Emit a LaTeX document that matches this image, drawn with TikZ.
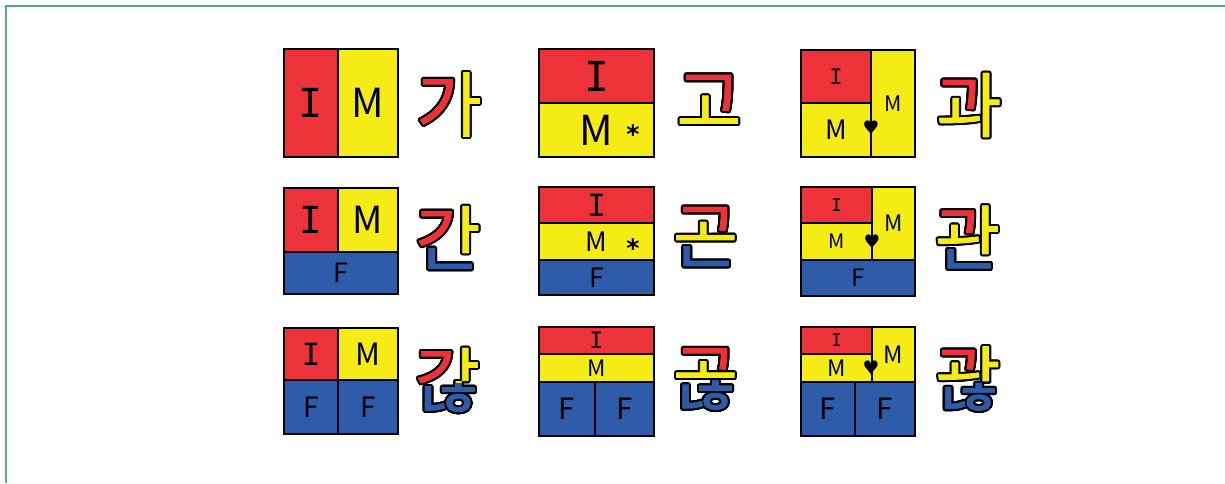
\documentclass[tikz,border=0pt]{standalone}
\usepackage{fontspec}
\setmainfont{Noto Sans CJK KR}
\newfontfamily\hangul[FakeBold=1.2]{Noto Sans CJK KR}
\newfontfamily\monoI{DejaVu Sans Mono}
\newfontfamily\symfont{DejaVu Sans}
\usepackage{contour}
\contourlength{1.5pt}
\usetikzlibrary{fit}
\definecolor{myred}{RGB}{237,50,58}
\definecolor{myyellow}{RGB}{245,236,22}
\definecolor{myblue}{RGB}{46,92,170}
\definecolor{myframe}{RGB}{95,158,158}
\tikzset{
  cell/.style={rectangle, draw=black, line width=1.4pt, inner sep=0pt},
  redcell/.style={cell, fill=myred},
  yelcell/.style={cell, fill=myyellow},
  bluecell/.style={cell, fill=myblue},
  lab/.style={font=\fontsize{#1}{#1}\selectfont},
  labI/.style={font=\monoI\fontsize{#1}{#1}\selectfont},
  heartsym/.style={inner sep=0pt, font=\symfont\fontsize{14}{14}\selectfont},
  starsym/.style={inner sep=0pt, font=\symfont\bfseries\fontsize{19}{19}\selectfont},
  syl/.style={inner sep=0pt, font=\hangul\fontsize{53}{53}\selectfont},
  frame/.style={draw=myframe, line width=1.5pt}
}
% paint one jamo of a syllable: node, syllable, colour, clip path
\newcommand{\paint}[4]{%
  \begin{scope}
    \clip[shift={(#1.center)}] #4;
    \node[syl, text=#3] (#1-#3) at (#1.center) {\contour{black}{#2}};
  \end{scope}}

\begin{document}
\begin{tikzpicture}[x=0.75pt, y=-0.75pt]
  \useasboundingbox (0,0) rectangle (1225,483);
  \draw[frame] (5,6) -- (1225,6);
  \draw[frame] (6,5) -- (6,483);

  % row 1
  \node[redcell, fit={(284,49) (338,157)}, label={[labI=30]center:I}] (a1-I) {};
  \node[yelcell, fit={(338,49) (398,157)}, label={[lab=30]center:M}] (a1-M) {};

  \node[redcell, fit={(539,49) (654,103)}, label={[labI=31]center:I}] (b1-I) {};
  \node[yelcell, fit={(539,103) (654,157)}, label={[lab=31]center:M}] (b1-M) {};
  \node[starsym] (b1-s) at (633,134) {*};

  \node[redcell, fit={(801,50) (871,103)}, label={[labI=16]center:I}] (c1-I) {};
  \node[yelcell, fit={(801,103) (871,157)}, label={[lab=20]center:M}] (c1-M) {};
  \node[yelcell, fit={(871,50) (915,157)}, label={[lab=16]center:M}] (c1-Mr) {};
  \node[heartsym] (c1-h) at (871,128) {♥};

  % row 2
  \node[redcell, fit={(284,188) (338,252)}, label={[labI=28]center:I}] (a2-I) {};
  \node[yelcell, fit={(338,188) (398,252)}, label={[lab=28]center:M}] (a2-M) {};
  \node[bluecell, fit={(284,252) (398,294)}, label={[lab=20]center:F}] (a2-F) {};

  \node[redcell, fit={(539,187) (654,223)}, label={[labI=23]center:I}] (b2-I) {};
  \node[yelcell, fit={(539,223) (654,260)}, label={[lab=20]center:M}] (b2-M) {};
  \node[bluecell, fit={(539,260) (654,295)}, label={[lab=20]center:F}] (b2-F) {};
  \node[starsym] (b2-s) at (633,248) {*};

  \node[redcell, fit={(801,187) (872,223)}, label={[labI=13]center:I}] (c2-I) {};
  \node[yelcell, fit={(801,223) (872,260)}, label={[lab=15]center:M}] (c2-M) {};
  \node[yelcell, fit={(872,187) (915,260)}, label={[lab=17]center:M}] (c2-Mr) {};
  \node[bluecell, fit={(801,260) (915,296)}, label={[lab=18]center:F}] (c2-F) {};
  \node[heartsym] (c2-h) at (872,242) {♥};

  % row 3
  \node[redcell, fit={(284,328) (338,380)}, label={[labI=23]center:I}] (a3-I) {};
  \node[yelcell, fit={(338,328) (398,380)}, label={[lab=23]center:M}] (a3-M) {};
  \node[bluecell, fit={(284,380) (338,434)}, label={[lab=21]center:F}] (a3-F1) {};
  \node[bluecell, fit={(338,380) (398,434)}, label={[lab=21]center:F}] (a3-F2) {};

  \node[redcell, fit={(539,327) (654,354)}, label={[labI=17]center:I}] (b3-I) {};
  \node[yelcell, fit={(539,354) (654,382)}, label={[lab=17]center:M}] (b3-M) {};
  \node[bluecell, fit={(539,382) (595,436)}, label={[lab=22]center:F}] (b3-F1) {};
  \node[bluecell, fit={(595,382) (654,436)}, label={[lab=22]center:F}] (b3-F2) {};

  \node[redcell, fit={(801,327) (872,354)}, label={[labI=13]center:I}] (c3-I) {};
  \node[yelcell, fit={(801,354) (872,382)}, label={[lab=17]center:M}] (c3-M) {};
  \node[yelcell, fit={(872,327) (915,382)}, label={[lab=18]center:M}] (c3-Mr) {};
  \node[bluecell, fit={(801,382) (855,436)}, label={[lab=22]center:F}] (c3-F1) {};
  \node[bluecell, fit={(855,382) (915,436)}, label={[lab=22]center:F}] (c3-F2) {};
  \node[heartsym] (c3-h) at (871,368) {♥};

  % syllables
  \node[syl, text=myyellow] (ga) at (449,105.5) {\contour{black}{가}};
  \paint{ga}{가}{myred}{(-50,-50) rectangle (8,50)}

  \node[syl, text=myyellow] (go) at (709,102) {\contour{black}{고}};
  \paint{go}{고}{myred}{(-50,-50) -- (50,-50) -- (50,13.5) -- (6,13.5) -- (6,-14) -- (-50,-14) -- cycle}

  \node[syl, text=myyellow] (gwa) at (969,106) {\contour{black}{과}};
  \paint{gwa}{과}{myred}{(-50,-50) -- (10.5,-50) -- (10.5,6.5) -- (-6,6.5) -- (-6,-14) -- (-50,-14) -- cycle}

  \node[syl, text=myyellow] (gan) at (448,238.5) {\contour{black}{간}};
  \paint{gan}{간}{myred}{(-50,-50) -- (8,-50) -- (8,6.5) -- (-23,6.5) -- (-23,13) -- (-50,13) -- cycle}
  \paint{gan}{간}{myblue}{(-50,13) -- (-23,13) -- (-23,6.5) -- (8,6.5) -- (8,21) -- (50,21) -- (50,50) -- (-50,50) -- cycle}

  \node[syl, text=myyellow] (gon) at (705.5,237.5) {\contour{black}{곤}};
  \paint{gon}{곤}{myred}{(-50,-50) -- (50,-50) -- (50,-4.5) -- (6,-4.5) -- (6,-20.5) -- (-50,-20.5) -- cycle}
  \paint{gon}{곤}{myblue}{(-50,5.5) rectangle (50,50)}

  \node[syl, text=myyellow] (gwan) at (967.5,238) {\contour{black}{관}};
  \paint{gwan}{관}{myred}{(-50,-50) -- (10.5,-50) -- (10.5,-3.2) -- (-6,-3.2) -- (-6,-17.5) -- (-50,-17.5) -- cycle}
  \paint{gwan}{관}{myblue}{(-50,8) -- (10.5,8) -- (10.5,21) -- (50,21) -- (50,50) -- (-50,50) -- cycle}

  \node[syl, text=myyellow] (ganh) at (447.5,381) {\contour{black}{갆}};
  \paint{ganh}{갆}{myred}{(-50,-50) rectangle (8,2)}
  \paint{ganh}{갆}{myblue}{(-50,2.5) rectangle (50,50)}

  \node[syl, text=myyellow] (gonh) at (705.5,380) {\contour{black}{곦}};
  \paint{gonh}{곦}{myred}{(-50,-50) -- (50,-50) -- (50,-9.7) -- (6,-9.7) -- (6,-22.5) -- (-50,-22.5) -- cycle}
  \paint{gonh}{곦}{myblue}{(-50,-0.4) rectangle (50,50)}

  \node[syl, text=myyellow] (gwanh) at (968,379.5) {\contour{black}{괂}};
  \paint{gwanh}{괂}{myred}{(-50,-50) -- (10.5,-50) -- (10.5,-7.8) -- (-6,-7.8) -- (-6,-21) -- (-50,-21) -- cycle}
  \paint{gwanh}{괂}{myblue}{(-50,2.3) rectangle (50,50)}
\end{tikzpicture}
\end{document}
